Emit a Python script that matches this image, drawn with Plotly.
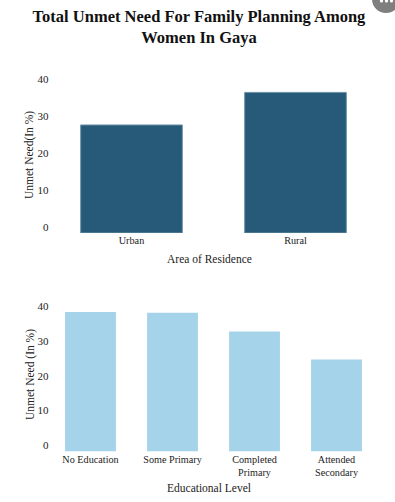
import plotly.graph_objects as go
from plotly.subplots import make_subplots

area_categories = ["Urban", "Rural"]
area_values = [29.2, 38.0]
education_categories = ["No Education", "Some Primary", "Completed<br>Primary", "Attended<br>Secondary"]
education_values = [40.0, 39.8, 34.4, 26.4]
y_ticks = [0, 10, 20, 30, 40]

W, H = 395, 502
def px(y):
    return 1 - y / H

fig = make_subplots(rows=2, cols=1)
fig.add_trace(go.Bar(x=area_categories, y=area_values, marker=dict(color="#265a78", line=dict(color="#6f93a8", width=1))), row=1, col=1)
fig.add_trace(go.Bar(x=education_categories, y=education_values, marker=dict(color="#a5d3ea", line=dict(width=0))), row=2, col=1)

font = "Liberation Serif"
axis_x = dict(domain=[49.5 / W, 377.5 / W], showgrid=False, zeroline=False, showline=False, ticks="",
              tickfont=dict(family=font, size=10.2, color="#222"), tickangle=0, automargin=False)
axis_y = dict(range=[0, 40], tickvals=y_ticks, showgrid=False, zeroline=False, showline=False, ticks="",
              tickfont=dict(family=font, size=11, color="#222"), ticklabelshift=-6, automargin=False)
def dot(cx):
    return dict(type="circle", xref="paper", yref="paper", x0=(cx - 1.6) / W, x1=(cx + 1.6) / W,
                y0=px(2.6), y1=px(-0.6), fillcolor="white", line=dict(width=0))
fig.update_layout(
    width=W, height=H, margin=dict(l=0, r=0, t=0, b=0), paper_bgcolor="white", plot_bgcolor="white",
    showlegend=False, bargap=0.38, font=dict(family=font),
    xaxis=axis_x, xaxis2=axis_x,
    yaxis=dict(axis_y, domain=[px(233), px(85)]),
    yaxis2=dict(axis_y, domain=[px(451.5), px(312)]),
    title=dict(text="<b>Total Unmet Need For Family Planning Among<br>Women In Gaya</b>",
               x=199 / W, xanchor="center", y=px(22), yanchor="top",
               font=dict(family=font, size=16.5, color="#111")),
    shapes=[dict(type="circle", xref="paper", yref="paper", x0=372 / W, x1=400 / W, y0=px(13), y1=px(-15),
                 fillcolor="#7f7f7f", line=dict(width=0)), dot(381.5), dot(386.5), dot(391.5)],
)
def note(text, x, y, angle=0, size=11.5):
    fig.add_annotation(text=text, xref="paper", yref="paper", x=x / W, y=px(y), showarrow=False,
                       xanchor="center", yanchor="middle",
                       textangle=angle, font=dict(family=font, size=size, color="#222"))
note("Area of Residence", 209, 259)
note("Educational Level", 209, 488)
note("Unmet Need(In %)", 30, 155, -90)
note("Unmet Need (In %)", 30, 375, -90)
fig.write_html("out.html", config=dict(displayModeBar=False), post_script="document.body.style.margin='0';")
